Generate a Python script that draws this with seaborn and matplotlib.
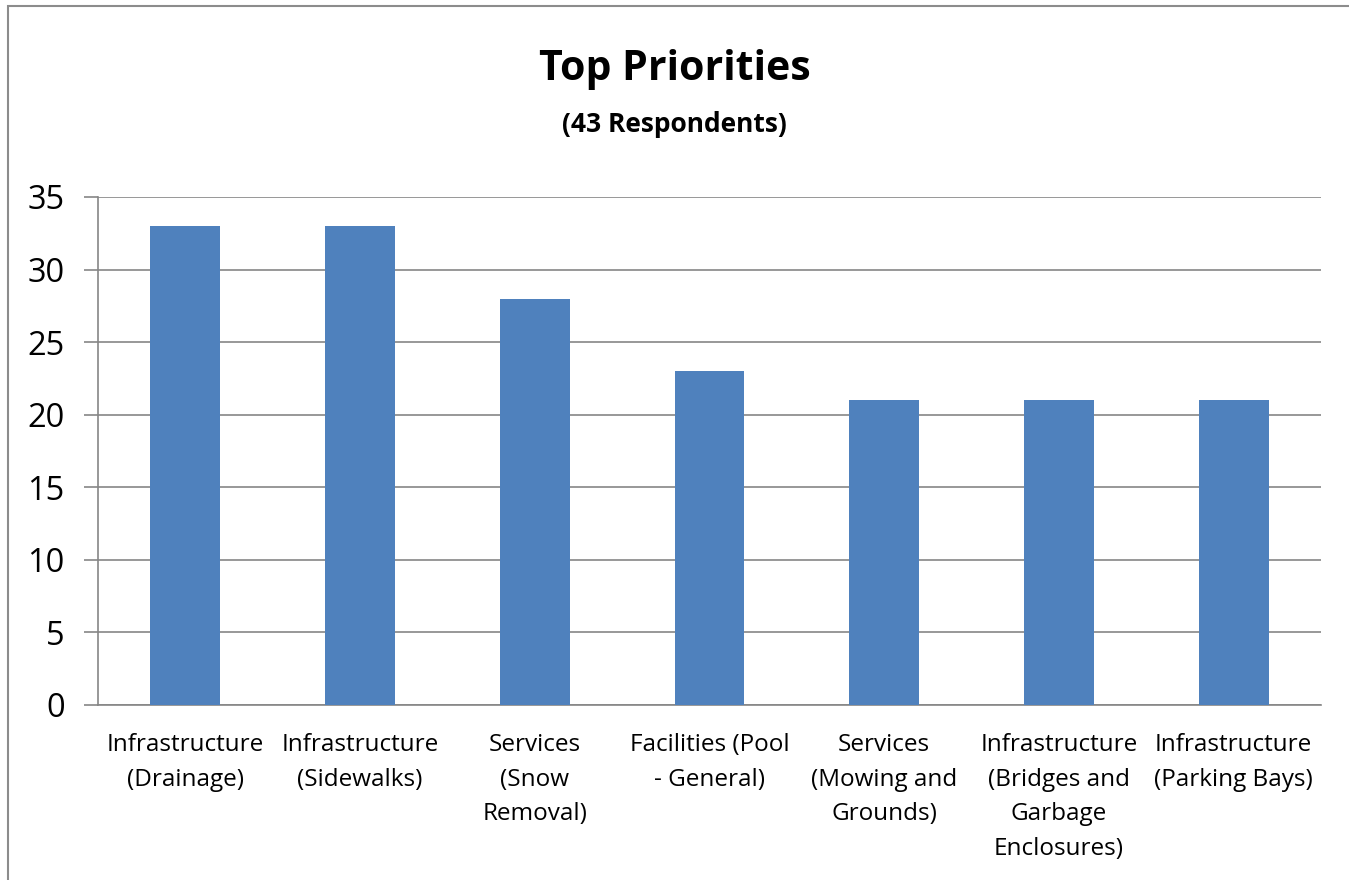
import numpy as np
import pandas as pd
import matplotlib
matplotlib.use("Agg")
import matplotlib.pyplot as plt
from matplotlib.patches import Rectangle
import seaborn as sns

sns.set_style("white")
plt.rcParams['font.family'] = ['Open Sans', 'DejaVu Sans']
plt.rcParams['text.color'] = 'black'
plt.rcParams['xtick.color'] = 'black'
plt.rcParams['ytick.color'] = 'black'

categories = [
    "Infrastructure\n(Drainage)",
    "Infrastructure\n(Sidewalks)",
    "Services\n(Snow\nRemoval)",
    "Facilities (Pool\n- General)",
    "Services\n(Mowing and\nGrounds)",
    "Infrastructure\n(Bridges and\nGarbage\nEnclosures)",
    "Infrastructure\n(Parking Bays)",
]
counts = [33, 33, 28, 23, 21, 21, 21]
y_ticks = [0, 5, 10, 15, 20, 25, 30, 35]

df = pd.DataFrame({"category": categories, "count": counts})

fig = plt.figure(figsize=(13.49, 8.8), dpi=100)
ax = fig.add_axes([0.0726, 0.1989, 0.9067, 0.5773])

sns.barplot(data=df, x="category", y="count", color="#4F81BD",
            width=0.4, saturation=1, linewidth=0, ax=ax, zorder=3)

grid_col = "#868686"
ax.set_ylim(0, 35)
ax.set_xlim(-0.5, len(categories) - 0.5)
ax.set_yticks(y_ticks)
ax.set_yticklabels([str(v) for v in y_ticks], fontsize=23.5)
ax.yaxis.grid(True, color=grid_col, linewidth=1.2, zorder=0)
ax.set_axisbelow(True)

# category labels at centres, tick marks at the boundaries
ax.set_xticks(range(len(categories)))
ax.set_xticklabels(categories, fontsize=17.5, linespacing=1.6)
ax.set_xticks(np.arange(-0.5, len(categories)), minor=True)
ax.tick_params(axis="x", which="major", length=0, pad=20)
ax.tick_params(axis="x", which="minor", length=10, width=1.2, color=grid_col)
ax.tick_params(axis="y", length=10, width=1.2, color=grid_col, pad=14,
               left=True, labelcolor="black")
ax.set_xlabel("")
ax.set_ylabel("")

for side in ["top", "right"]:
    ax.spines[side].set_visible(False)
for side in ["left", "bottom"]:
    ax.spines[side].set_color(grid_col)
    ax.spines[side].set_linewidth(1.2)

fig.text(0.5, 1 - 69 / 880, "Top Priorities", ha="center", va="center",
         fontsize=29.5, fontweight="bold")
fig.text(0.5, 1 - 125 / 880, "(43 Respondents)", ha="center", va="center",
         fontsize=19, fontweight="bold")

# outer chart border
fig.patches.append(Rectangle((8 / 1349, -0.05), 1.1, 1 - 6 / 880 + 0.05,
                             transform=fig.transFigure, fill=False,
                             edgecolor="#8c8c8c", linewidth=1.5))

fig.savefig("out.png", dpi=100)
